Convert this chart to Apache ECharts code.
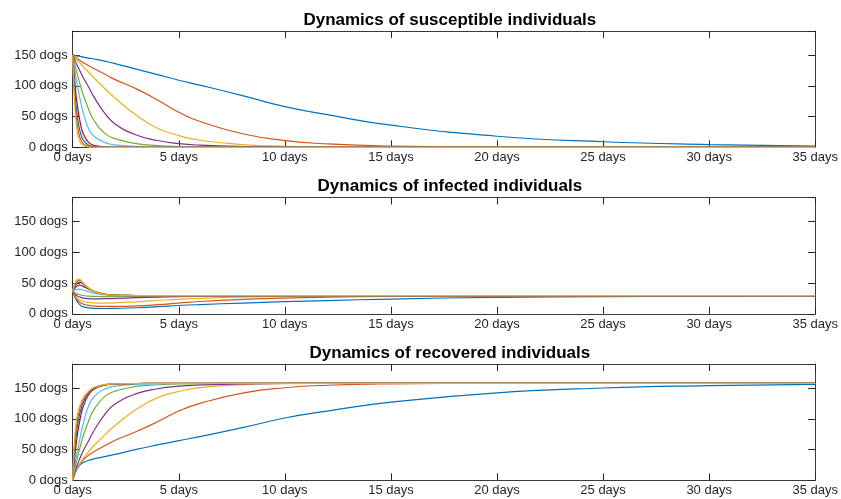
<!DOCTYPE html>
<html>
<head>
<meta charset="utf-8">
<script src="https://cdn.jsdelivr.net/npm/echarts@6/dist/echarts.min.js"></script>
<style>
html,body{margin:0;padding:0;background:#fff;}
#chart{width:841px;height:499px;}
</style>
</head>
<body>
<div id="chart"></div>
<script>
// time grid (days)
const days = [0, 0.05, 0.1, 0.15, 0.2, 0.3, 0.4, 0.5, 0.75, 1, 1.5, 2, 3, 4, 5, 6, 8, 10, 12, 15, 20, 25, 30, 35];

// Susceptible
const s1 = [150, 149.7, 149.4, 149, 148.7, 148, 147.3, 146.6, 145, 143.5, 140, 136, 127, 118, 109, 101, 84, 66, 53, 36, 18, 9, 4.5, 2];
const s2 = [150, 148.6, 147.2, 145.8, 144.5, 142, 139.7, 137.5, 132.5, 128, 119, 110, 95, 77, 57, 42, 22, 11, 5.5, 2, 0.5, 0.1, 0, 0];
const s3 = [150, 148, 146, 144, 142, 138.5, 135, 131, 122, 113, 96, 80, 52, 31, 19, 11.5, 4.5, 1.7, 0.7, 0.2, 0, 0, 0, 0];
const s4 = [150, 146, 142, 138, 134, 127, 120, 113, 98, 82, 56, 38, 20, 11, 6, 3.5, 1.2, 0.4, 0.1, 0, 0, 0, 0, 0];
const s5 = [150, 142, 135, 128, 121, 108, 96, 85, 62, 44, 23, 14, 6, 2.8, 1.3, 0.6, 0.1, 0, 0, 0, 0, 0, 0, 0];
const s6 = [150, 137, 125, 114, 104, 86, 70, 56, 30, 18, 8, 4, 1.5, 0.6, 0.2, 0.1, 0, 0, 0, 0, 0, 0, 0, 0];
const s7 = [150, 126, 106, 88, 73, 50, 33, 22, 8, 3, 0.8, 0.3, 0.1, 0, 0, 0, 0, 0, 0, 0, 0, 0, 0, 0];
const s8 = [150, 117, 92, 71, 55, 33, 20, 12, 3.3, 1, 0.2, 0.1, 0, 0, 0, 0, 0, 0, 0, 0, 0, 0, 0, 0];
const s9 = [150, 108, 78, 56, 41, 21, 11, 6, 1.2, 0.3, 0.1, 0, 0, 0, 0, 0, 0, 0, 0, 0, 0, 0, 0, 0];
const s10 = [150, 100, 66, 44, 29, 13, 6, 2.8, 0.5, 0.1, 0, 0, 0, 0, 0, 0, 0, 0, 0, 0, 0, 0, 0, 0];

// Infected
const i1 = [37, 31.5, 27.3, 23.7, 20.6, 16, 13, 11.3, 9.5, 8.8, 8.6, 8.8, 9.8, 11.5, 13.5, 15, 17.5, 19.8, 21.5, 24, 26.8, 28, 28.7, 29];
const i2 = [37, 32.5, 28.7, 25.7, 23.3, 19.8, 17.4, 15.8, 13.6, 12.6, 12, 12, 12.8, 14.8, 17.5, 20, 23.3, 25.6, 27, 28.3, 29, 29.2, 29.3, 29.3];
const i3 = [37, 33.3, 30.2, 27.8, 26, 23.3, 21.5, 20.2, 18.5, 17.8, 17.5, 17.8, 19.5, 21.6, 23.6, 25, 27, 28.2, 28.8, 29.2, 29.4, 29.4, 29.4, 29.4];
const i4 = [37, 34.3, 32.2, 30.6, 29.4, 27.6, 26.4, 25.6, 24.7, 24.4, 24.5, 25, 26.2, 27.2, 28, 28.5, 29, 29.3, 29.4, 29.5, 29.5, 29.5, 29.5, 29.5];
const i5 = [37, 35.5, 34.2, 33.3, 32.5, 31.3, 30.4, 29.7, 28.6, 28.2, 28, 28.1, 28.5, 28.9, 29.2, 29.3, 29.4, 29.5, 29.5, 29.5, 29.5, 29.5, 29.5, 29.5];
const i6 = [37, 37.8, 38.5, 39.2, 39.7, 40, 39.5, 38.6, 35.8, 33.4, 30.8, 29.9, 29.5, 29.5, 29.5, 29.5, 29.5, 29.5, 29.5, 29.5, 29.5, 29.5, 29.5, 29.5];
const i7 = [37, 39.5, 41.9, 43.9, 45.3, 46.5, 46, 44.6, 40, 36, 31.8, 30.3, 29.6, 29.5, 29.5, 29.5, 29.5, 29.5, 29.5, 29.5, 29.5, 29.5, 29.5, 29.5];
const i8 = [37, 41, 44.5, 47.3, 49.2, 51, 50.3, 48.3, 41.5, 36.5, 32, 30.4, 29.7, 29.5, 29.5, 29.5, 29.5, 29.5, 29.5, 29.5, 29.5, 29.5, 29.5, 29.5];
const i9 = [37, 42.3, 46.8, 50.2, 52.4, 54, 52.6, 49.6, 41.8, 36.5, 31.8, 30.3, 29.7, 29.5, 29.5, 29.5, 29.5, 29.5, 29.5, 29.5, 29.5, 29.5, 29.5, 29.5];
const i10 = [37, 44, 49.3, 53.2, 55.4, 56.3, 54, 50, 41.5, 36, 31.5, 30.2, 29.7, 29.5, 29.5, 29.5, 29.5, 29.5, 29.5, 29.5, 29.5, 29.5, 29.5, 29.5];

// Recovered
const r1 = [0, 5.8, 10.3, 14.3, 17.7, 23, 26.7, 29.1, 32.5, 34.7, 38.4, 42.2, 50.2, 57.5, 64.5, 71, 85.5, 101.2, 112.5, 127, 142.2, 150, 153.8, 156];
const r2 = [0, 5.9, 11.1, 15.5, 19.2, 25.2, 29.9, 33.7, 40.9, 46.4, 56, 65, 79.2, 95.2, 112.5, 125, 141.7, 150.4, 154.5, 156.7, 157.5, 157.7, 157.7, 157.7];
const r3 = [0, 5.7, 10.8, 15.2, 19, 25.2, 30.5, 35.8, 46.5, 56.2, 73.5, 89.2, 115.5, 134.4, 144.4, 150.5, 155.5, 157.1, 157.5, 157.6, 157.6, 157.6, 157.6, 157.6];
const r4 = [0, 6.7, 12.8, 18.4, 23.6, 32.4, 40.6, 48.4, 64.3, 80.6, 106.5, 124, 140.8, 148.8, 153, 155, 156.8, 157.3, 157.5, 157.5, 157.5, 157.5, 157.5, 157.5];
const r5 = [0, 9.5, 17.8, 25.7, 33.5, 47.7, 60.6, 72.3, 96.4, 114.8, 136, 144.9, 152.5, 155.3, 156.5, 157.1, 157.5, 157.5, 157.5, 157.5, 157.5, 157.5, 157.5, 157.5];
const r6 = [0, 12.2, 23.5, 33.8, 43.3, 61, 77.5, 92.4, 121.2, 135.6, 148.2, 153.1, 156, 156.9, 157.3, 157.4, 157.5, 157.5, 157.5, 157.5, 157.5, 157.5, 157.5, 157.5];
const r7 = [0, 21.5, 39.1, 55.1, 68.7, 90.5, 108, 120.4, 139, 148, 154.4, 156.4, 157.3, 157.5, 157.5, 157.5, 157.5, 157.5, 157.5, 157.5, 157.5, 157.5, 157.5, 157.5];
const r8 = [0, 29, 50.5, 68.7, 82.8, 103, 116.7, 126.7, 142.2, 149.5, 154.8, 156.5, 157.3, 157.5, 157.5, 157.5, 157.5, 157.5, 157.5, 157.5, 157.5, 157.5, 157.5, 157.5];
const r9 = [0, 36.7, 62.2, 80.8, 93.6, 112, 123.4, 131.4, 144, 150.2, 155.1, 156.7, 157.3, 157.5, 157.5, 157.5, 157.5, 157.5, 157.5, 157.5, 157.5, 157.5, 157.5, 157.5];
const r10 = [0, 43, 71.7, 89.8, 102.6, 117.7, 127, 134.2, 145, 150.9, 155.5, 156.8, 157.3, 157.5, 157.5, 157.5, 157.5, 157.5, 157.5, 157.5, 157.5, 157.5, 157.5, 157.5];

const titles = ['Dynamics of susceptible individuals', 'Dynamics of infected individuals', 'Dynamics of recovered individuals'];
const xTicks = [0, 5, 10, 15, 20, 25, 30, 35];
const yTicks = [0, 50, 100, 150];
const colors = ['#0072BD', '#D95319', '#EDB120', '#7E2F8E', '#77AC30', '#4DBEEE', '#A2142F', '#0072BD', '#D95319', '#EDB120'];

const panels = [
  [s1, s2, s3, s4, s5, s6, s7, s8, s9, s10],
  [i1, i2, i3, i4, i5, i6, i7, i8, i9, i10],
  [r1, r2, r3, r4, r5, r6, r7, r8, r9, r10]
];

const FONT = '"Liberation Sans", Arial, Helvetica, sans-serif';
const AX = '#262626';
const gridTops = [31, 197.5, 364];
const gridH = 116.3;
const gridLeft = 72.7;
const gridRight = 24;
const yMax = 189;

const grids = [], xAxes = [], yAxes = [], series = [], titleCfg = [];
gridTops.forEach((top, g) => {
  grids.push({left: gridLeft, right: gridRight, top: top, height: gridH, containLabel: false});
  const tick = {show: true, inside: true, length: 7, lineStyle: {color: AX, width: 1}};
  const line = {show: true, onZero: false, lineStyle: {color: '#3a3a3a', width: 1}};
  xAxes.push({
    type: 'value', gridIndex: g, position: 'bottom', min: 0, max: 35, interval: 5,
    axisLine: line, axisTick: tick, splitLine: {show: false},
    axisLabel: {show: true, margin: 4, color: AX, fontSize: 13, fontFamily: FONT,
      formatter: v => (xTicks.indexOf(v) >= 0 ? v + ' days' : '')}
  });
  xAxes.push({
    type: 'value', gridIndex: g, position: 'top', min: 0, max: 35, interval: 5,
    axisLine: line, axisTick: tick, splitLine: {show: false}, axisLabel: {show: false}
  });
  yAxes.push({
    type: 'value', gridIndex: g, position: 'left', min: 0, max: yMax, interval: 50,
    axisLine: line, axisTick: tick, splitLine: {show: false},
    axisLabel: {show: true, margin: 5, color: AX, fontSize: 13, fontFamily: FONT,
      formatter: v => (yTicks.indexOf(v) >= 0 ? v + ' dogs' : '')}
  });
  yAxes.push({
    type: 'value', gridIndex: g, position: 'right', min: 0, max: yMax, interval: 50,
    axisLine: line, axisTick: tick, splitLine: {show: false}, axisLabel: {show: false}
  });
  titleCfg.push({
    text: titles[g], left: gridLeft + (841 - gridLeft - gridRight) / 2, top: top - 24.5,
    textAlign: 'center',
    textStyle: {fontSize: 17, fontWeight: 'bold', color: '#000', fontFamily: FONT}
  });
  panels[g].forEach((arr, k) => {
    series.push({
      type: 'line', xAxisIndex: g * 2, yAxisIndex: g * 2,
      data: days.map((d, j) => [d, arr[j]]),
      showSymbol: false, symbol: 'none', smooth: 0.5,
      lineStyle: {color: colors[k], width: 1.2}, itemStyle: {color: colors[k]},
      clip: true, silent: true
    });
  });
});

const chart = echarts.init(document.getElementById('chart'), null, {renderer: 'canvas'});
chart.setOption({
  animation: false,
  backgroundColor: '#fff',
  title: titleCfg,
  grid: grids,
  xAxis: xAxes,
  yAxis: yAxes,
  series: series
});
</script>
</body>
</html>
